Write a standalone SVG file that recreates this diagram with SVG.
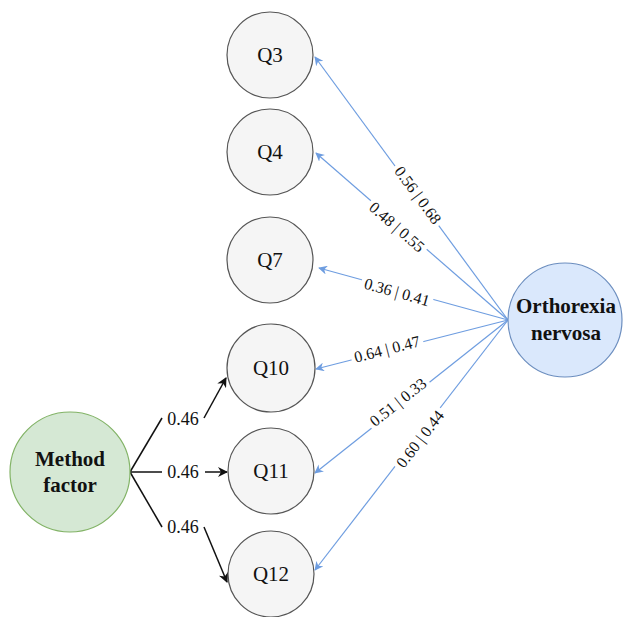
<svg xmlns="http://www.w3.org/2000/svg" width="624" height="617" viewBox="0 0 624 617">
<style>
.q{fill:#f5f5f5;stroke:#555;stroke-width:1.2}
.qt{font-family:"Liberation Serif",serif;font-size:21px;fill:#111;text-anchor:middle}
.bt{font-family:"Liberation Serif",serif;font-size:21px;font-weight:bold;fill:#111;text-anchor:middle}
.bl{stroke:#6e9de0;stroke-width:1.2;fill:none}
.bk{stroke:#111;stroke-width:1.5;fill:none}
.lb{font-family:"Liberation Serif",serif;font-size:16px;fill:#111;text-anchor:middle}
.mk{font-family:"Liberation Serif",serif;font-size:18px;fill:#111;text-anchor:middle}
</style>
<defs>
<marker id="ab" viewBox="0 0 10 10" refX="9" refY="5" markerWidth="9" markerHeight="9" markerUnits="userSpaceOnUse" orient="auto"><path d="M0,0 L10,5 L0,10 L3,5 Z" fill="#6e9de0"/></marker>
<marker id="ak" viewBox="0 0 10 10" refX="9" refY="5" markerWidth="10" markerHeight="10" markerUnits="userSpaceOnUse" orient="auto"><path d="M0,0 L10,5 L0,10 L3,5 Z" fill="#111"/></marker>
</defs>
<g id="connectors">
<line class="bl" x1="508" y1="320" x2="315" y2="57" marker-end="url(#ab)"/>
<line class="bl" x1="508" y1="320" x2="316" y2="153" marker-end="url(#ab)"/>
<line class="bl" x1="508" y1="320" x2="319" y2="268" marker-end="url(#ab)"/>
<line class="bl" x1="508" y1="320" x2="316" y2="369" marker-end="url(#ab)"/>
<line class="bl" x1="508" y1="320" x2="315" y2="473" marker-end="url(#ab)"/>
<line class="bl" x1="508" y1="320" x2="315" y2="570" marker-end="url(#ab)"/>
<g fill="#fff">
<rect x="-37" y="-9" width="74" height="18" transform="translate(418,195) rotate(53.6)"/>
<rect x="-37" y="-9" width="74" height="18" transform="translate(397,227) rotate(41)"/>
<rect x="-37" y="-9" width="74" height="18" transform="translate(397,292) rotate(15.5)"/>
<rect x="-37" y="-9" width="74" height="18" transform="translate(387,349) rotate(-14.3)"/>
<rect x="-37" y="-9" width="74" height="18" transform="translate(398,402) rotate(-38.4)"/>
<rect x="-37" y="-9" width="74" height="18" transform="translate(420,439) rotate(-52.3)"/>
</g>
<text class="lb" transform="translate(418,195) rotate(53.6)" y="5.5">0.56 | 0.68</text>
<text class="lb" transform="translate(397,227) rotate(41)" y="5.5">0.48 | 0.55</text>
<text class="lb" transform="translate(397,292) rotate(15.5)" y="5.5">0.36 | 0.41</text>
<text class="lb" transform="translate(387,349) rotate(-14.3)" y="5.5">0.64 | 0.47</text>
<text class="lb" transform="translate(398,402) rotate(-38.4)" y="5.5">0.51 | 0.33</text>
<text class="lb" transform="translate(420,439) rotate(-52.3)" y="5.5">0.60 | 0.44</text>
<path class="bk" d="M130,472 L162,418"/>
<path class="bk" d="M204,418 L226,378" marker-end="url(#ak)"/>
<path class="bk" d="M130,472 L162,472"/>
<path class="bk" d="M205,472 L227,472" marker-end="url(#ak)"/>
<path class="bk" d="M130,472 L162,527"/>
<path class="bk" d="M204,527 L227,582" marker-end="url(#ak)"/>
<text class="mk" x="183" y="425">0.46</text>
<text class="mk" x="183" y="478">0.46</text>
<text class="mk" x="183" y="533">0.46</text>
</g>
<g id="Q3"><circle class="q" cx="270" cy="55" r="43"/><text class="qt" x="270" y="62">Q3</text></g>
<g id="Q4"><circle class="q" cx="270" cy="152" r="43"/><text class="qt" x="270" y="159">Q4</text></g>
<g id="Q7"><circle class="q" cx="270" cy="260" r="43"/><text class="qt" x="270" y="267">Q7</text></g>
<g id="Q10"><circle class="q" cx="271" cy="368" r="44"/><text class="qt" x="271" y="375">Q10</text></g>
<g id="Q11"><circle class="q" cx="271" cy="471" r="43"/><text class="qt" x="271" y="478">Q11</text></g>
<g id="Q12"><circle class="q" cx="271" cy="574" r="43"/><text class="qt" x="271" y="581">Q12</text></g>
<g id="method"><circle cx="70" cy="472" r="60" fill="#d5e8d4" stroke="#82b366" stroke-width="1.2"/><text class="bt" x="70" y="466">Method</text><text class="bt" x="70" y="492">factor</text></g>
<g id="orthorexia"><circle cx="565" cy="320" r="57" fill="#dae8fc" stroke="#6c8ebf" stroke-width="1.2"/><text class="bt" x="566" y="313">Orthorexia</text><text class="bt" x="566" y="340">nervosa</text></g>
</svg>
